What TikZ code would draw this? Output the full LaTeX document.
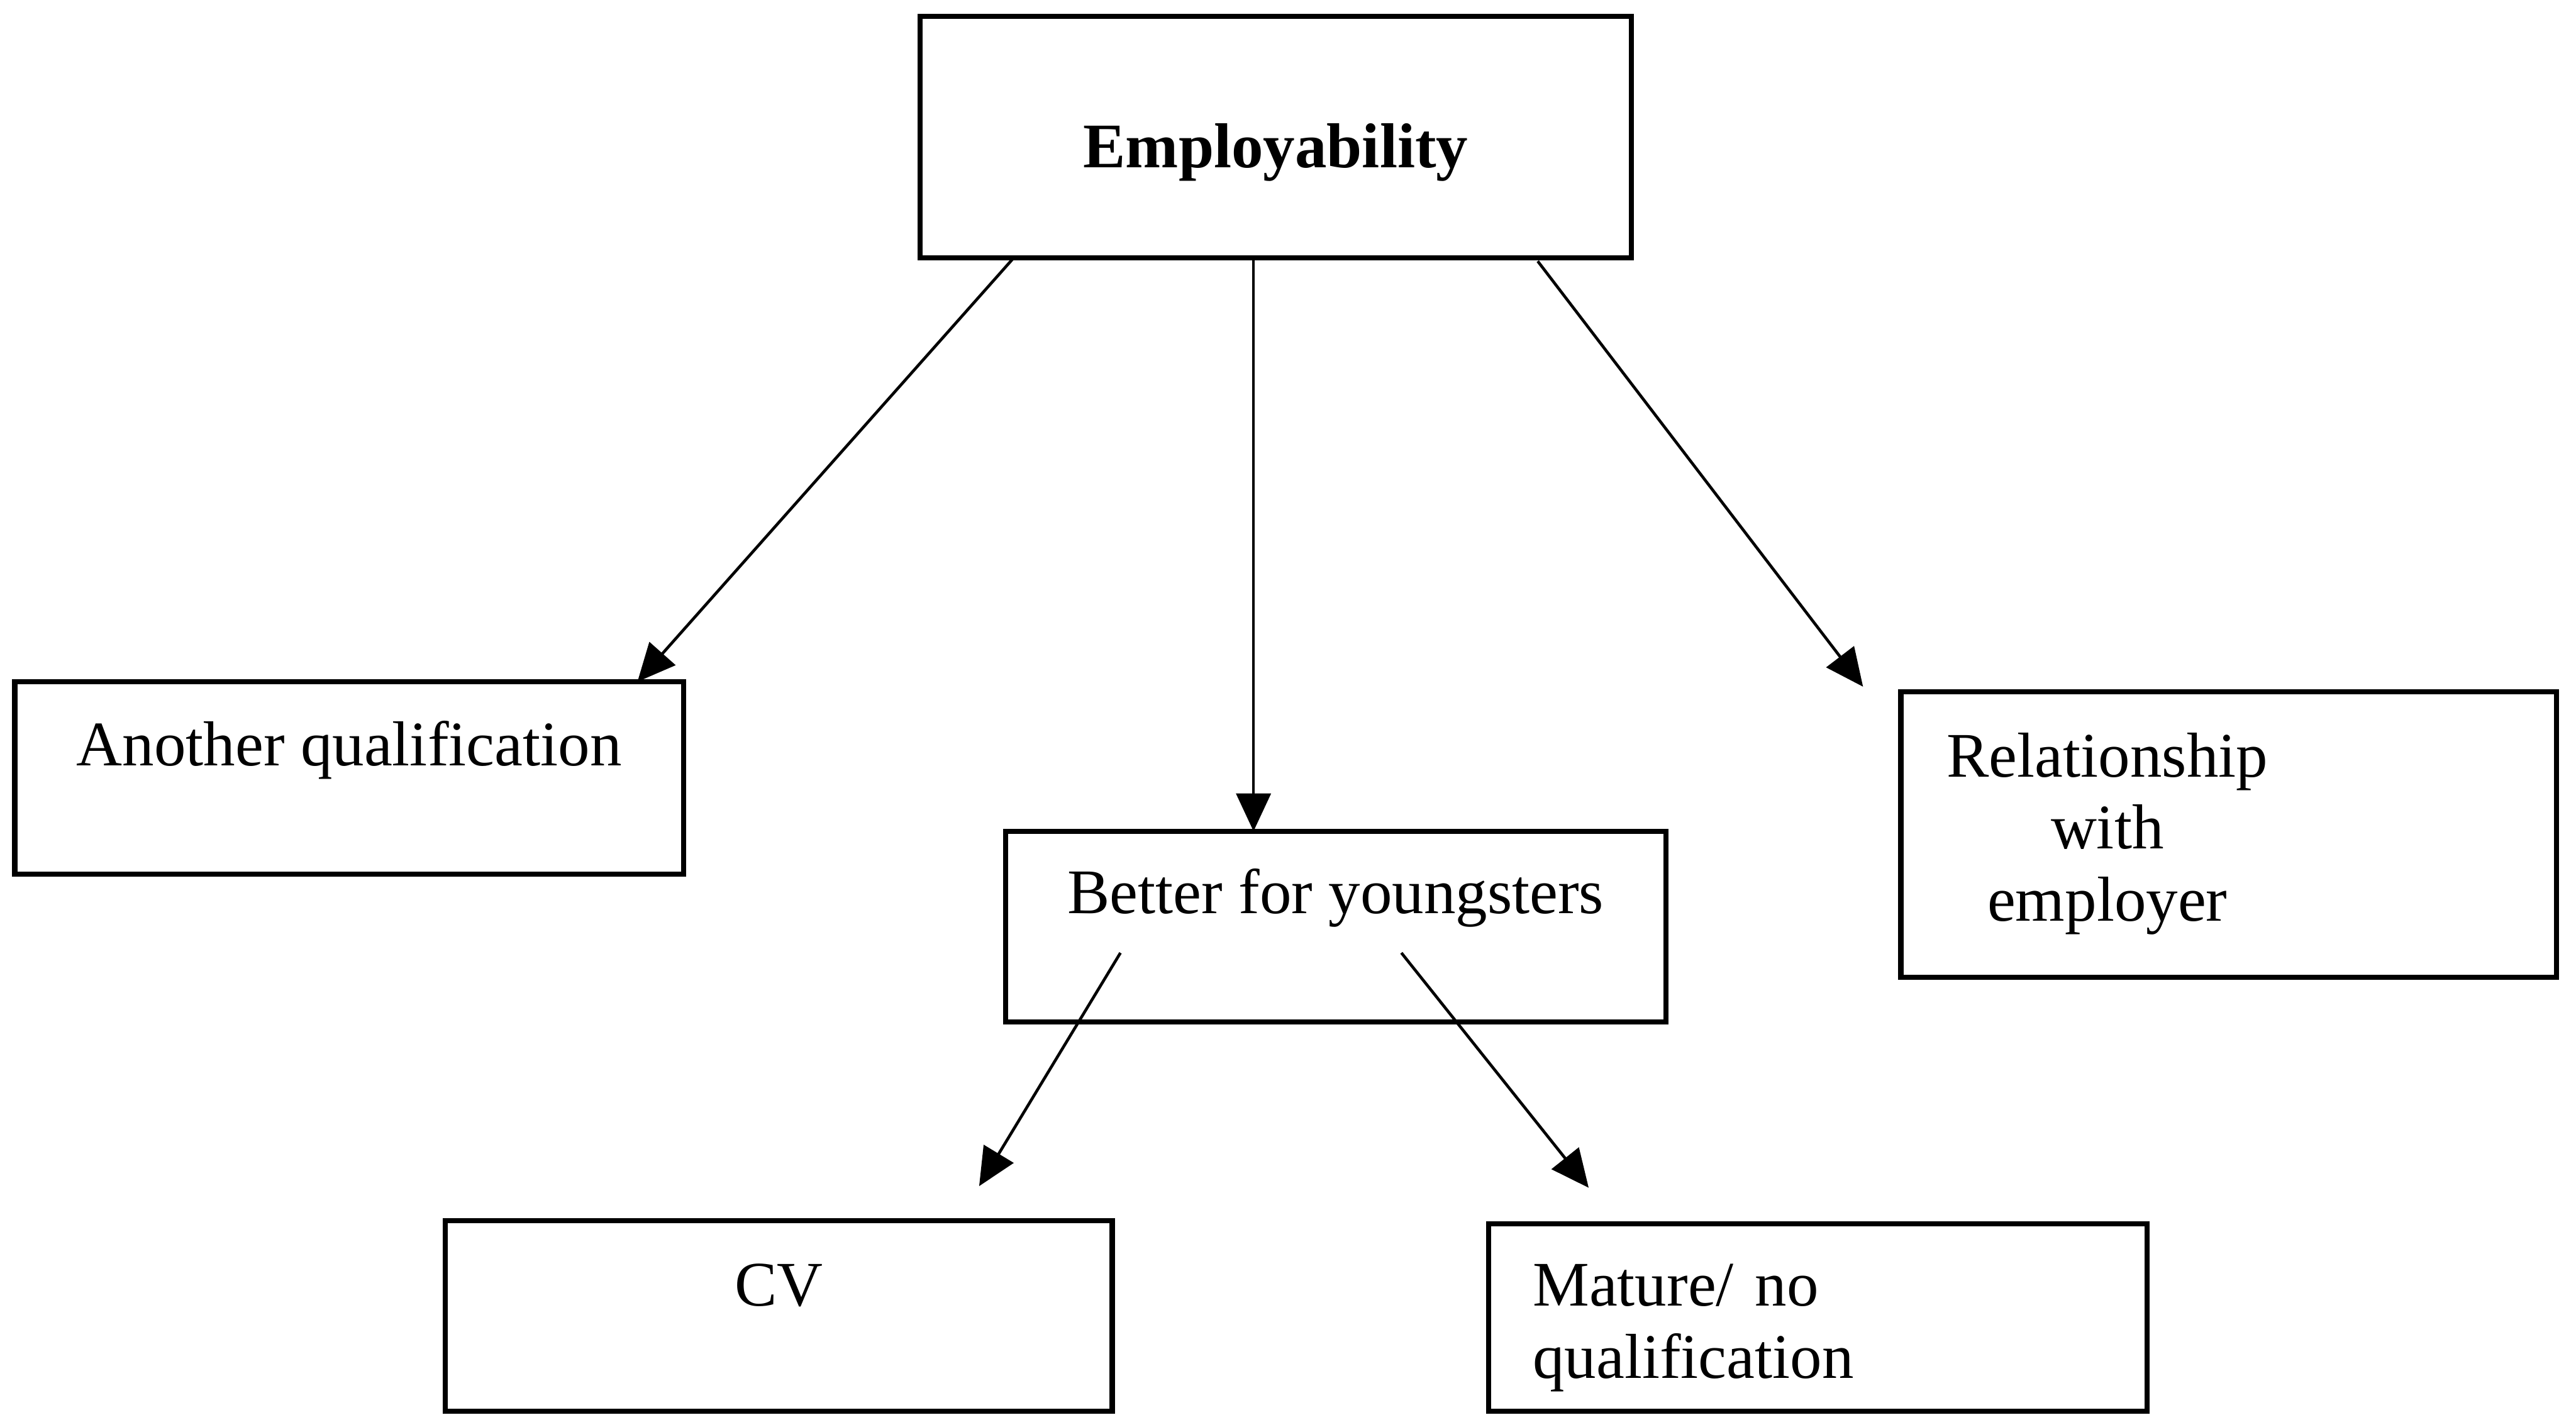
\documentclass[tikz,border=0pt]{standalone}
\usepackage{fontspec}
\setmainfont{Liberation Serif}
\usetikzlibrary{arrows.meta,positioning}
\tikzset{
  every picture/.style={font=\fontsize{11}{12.5}\selectfont},
  box/.style={draw,line width=0.9pt,inner xsep=0pt,inner ysep=0pt},
  link/.style={line width=0.5pt,-{Triangle[length=2.3mm,width=2.1mm]}},
}

\begin{document}
\begin{tikzpicture}
  \useasboundingbox (0,0) rectangle (15.68,-8.61);
  % boxes
  \node[box,minimum width=43.3mm,minimum height=14.7mm,text height=9.2mm,text depth=5.5mm] (emp) at (7.765,-0.835) {\textbf{Employability}};
  \node[box,minimum width=40.7mm,minimum height=11.7mm,text height=5.1mm,text depth=6.6mm] (qual) at (2.125,-4.735) {Another qualification};
  \node[box,minimum width=40.2mm,minimum height=11.6mm,text height=5.0mm,text depth=6.6mm] (young) at (8.13,-5.64) {Better for youngsters};
  \node[box,minimum width=39.9mm,minimum height=17.4mm,text width=34.3mm,align=left] (rel) at (13.565,-5.08)
    {\begin{tabular}{@{}c@{}}Relationship\\with\\employer\end{tabular}};
  \node[box,minimum width=40.6mm,minimum height=11.6mm,text height=5.2mm,text depth=6.4mm] (cv) at (4.74,-8.01) {CV};
  \node[box,minimum width=40.1mm,minimum height=11.4mm,text width=34.7mm,align=left,text height=5.0mm,text depth=6.4mm] (mat) at (11.065,-8.02)
    {\begin{tabular}[t]{@{}l@{}}Mature/ no\\qualification\end{tabular}};
  % arrow ends
  \coordinate (e1) at (6.17,-1.57);
  \coordinate (e2) at (7.63,-1.58);
  \coordinate (e3) at (9.36,-1.59);
  \coordinate (q1) at (3.88,-4.15);
  \coordinate (y1) at (7.63,-5.06);
  \coordinate (r1) at (11.34,-4.18);
  \coordinate (y2) at (6.82,-5.80);
  \coordinate (y3) at (8.53,-5.80);
  \coordinate (c1) at (5.96,-7.22);
  \coordinate (m1) at (9.67,-7.23);
  \draw[link] (e1) -- (q1);
  \draw[link] (e2) -- (y1);
  \draw[link] (e3) -- (r1);
  \draw[link] (y2) -- (c1);
  \draw[link] (y3) -- (m1);
\end{tikzpicture}
\end{document}
